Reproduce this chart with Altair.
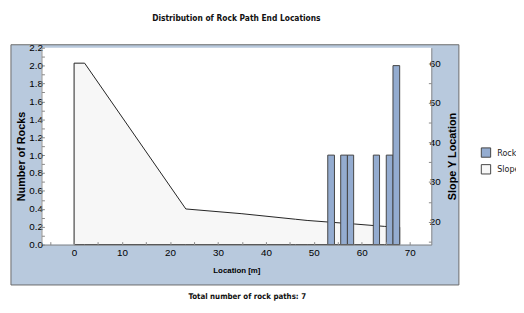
import altair as alt
import pandas as pd

# ---- data ----
bin_start = [52.9, 55.6, 57.0, 62.4, 65.1, 66.5]
bin_end = [54.3, 57.0, 58.3, 63.7, 66.5, 67.9]
rock_counts = [1, 1, 1, 1, 1, 2]

slope_loc = [0.0, 2.2, 23.3, 35.0, 46.2, 48.6, 53.0, 58.5, 64.7, 67.9]
slope_y = [60.0, 60.0, 23.2, 22.0, 20.6, 20.3, 19.9, 19.4, 18.8, 18.6]

x_ticks = list(range(-5, 75, 5))
left_ticks = [round(i * 0.1, 1) for i in range(0, 23)]
right_ticks = list(range(15, 65, 5))

x_domain = [-6.8, 74.5]
left_domain = [0, 2.2]
right_domain = [14.2, 63.9]

W, H = 396, 200
FONT = "Liberation Sans Narrow, DejaVu Sans Condensed, Liberation Sans"

bars = pd.DataFrame({"start": bin_start, "end": bin_end, "count": rock_counts,
                     "zero": 0, "series": "Rock"})
slope = pd.DataFrame({"loc": slope_loc, "y": slope_y, "base": right_domain[0], "series": "Slope"})
one = pd.DataFrame({"a": [0]})

color = alt.Color(
    "series:N",
    scale=alt.Scale(domain=["Rock", "Slope"], range=["#94acd0", "#f7f7f7"]),
    legend=alt.Legend(
        title=None, orient="none", legendX=446, legendY=101,
        symbolType="square", symbolSize=90, symbolStrokeColor="#444",
        symbolStrokeWidth=1, labelFontSize=9, labelFont=FONT, labelColor="#222",
        rowPadding=2, labelOffset=6, symbolOpacity=1,
    ),
)

xscale = alt.Scale(domain=x_domain, nice=False, zero=False)
x_axis = alt.Axis(
    values=x_ticks, labelExpr="datum.value % 10 === 0 ? datum.label : ''",
    title="Location [m]", grid=False, zindex=1, tickSize=alt.ExprRef("-3"),
    labelPadding=6, titlePadding=9, titleFontSize=8,
)

panel = alt.Chart(one).mark_rect(fill="#b8c9dd", stroke="#6a6a6a", strokeWidth=1).encode(
    x=alt.value(-31), x2=alt.value(W + 28), y=alt.value(-3), y2=alt.value(H + 41)
)
plotbg = alt.Chart(one).mark_rect(fill="white").encode(
    x=alt.value(0), x2=alt.value(W), y=alt.value(0), y2=alt.value(H)
)

area = alt.Chart(slope).mark_area(stroke="#222", strokeWidth=1, opacity=1).encode(
    x=alt.X("loc:Q", scale=xscale, axis=x_axis),
    y=alt.Y("y:Q", scale=alt.Scale(domain=right_domain, nice=False, zero=False),
            axis=alt.Axis(orient="right", values=right_ticks,
                          labelExpr="datum.value % 10 === 0 ? datum.label : ''",
                          title="Slope Y Location", titleAngle=270, titleX=22, titleY=110,
                          titleBaseline="middle", grid=False, zindex=1,
                          tickSize=alt.ExprRef("-3"), labelPadding=1)),
    y2="base:Q",
    color=color,
)

bar = alt.Chart(bars).mark_bar(stroke="#444", strokeWidth=1, opacity=1).encode(
    x=alt.X("start:Q", scale=xscale, axis=x_axis),
    x2="end:Q",
    y=alt.Y("count:Q", scale=alt.Scale(domain=left_domain, nice=False),
            axis=alt.Axis(orient="left", values=left_ticks, format=".1f",
                          labelExpr="round(datum.value * 10) % 2 === 0 ? datum.label : ''",
                          title="Number of Rocks", titleAngle=270, titleX=-20, titleY=110,
                          titleBaseline="middle", grid=False, zindex=1,
                          tickSize=alt.ExprRef("-3"), labelPadding=2)),
    y2="zero:Q",
    color=color,
)

footer = alt.Chart(one).mark_text(
    text="Total number of rock paths:  7", font=FONT, fontSize=8, fontWeight="bold",
    color="#111", align="center", baseline="middle",
).encode(x=alt.value(209), y=alt.value(253))

chart = alt.layer(panel, plotbg, area, bar, footer).resolve_scale(
    y="independent"
).properties(
    width=W, height=H,
    autosize=alt.AutoSizeParams(type="none"),
    padding={"left": 34, "top": 38, "right": 86, "bottom": 59},
    title=alt.TitleParams(
        "Distribution of Rock Path End Locations", anchor="middle", frame="group",
        font=FONT, fontSize=8.5, fontWeight="bold", color="#111",
        baseline="bottom", offset=12,
    ),
).configure_view(stroke=None, fill="white").configure_axis(
    domainColor="#111", tickColor="#111", labelColor="#555", labelFont=FONT,
    labelFontSize=7, titleFont=FONT, titleFontSize=9, titleFontWeight="bold",
    titleColor="#222",
).configure(background="white")

chart.save("out.html", embed_options={"renderer": "svg", "actions": False})
